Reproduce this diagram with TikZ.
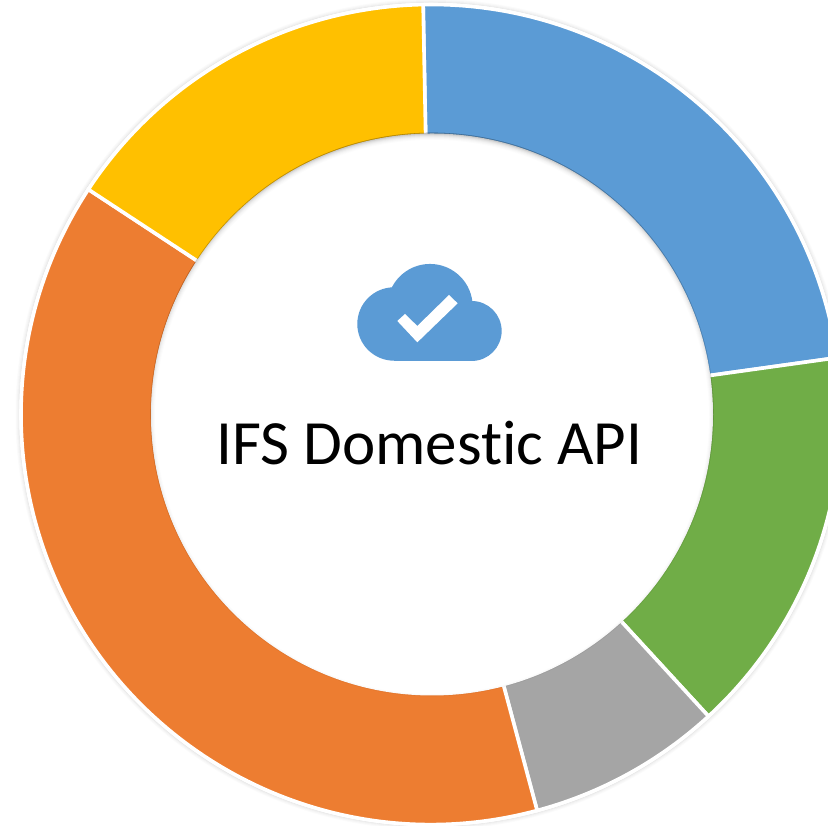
\documentclass[tikz,border=0pt]{standalone}
\usepackage{fontspec}
\setmainfont[Ligatures=NoCommon]{Carlito}
\definecolor{ringblue}{HTML}{5B9BD5}
\definecolor{ringgreen}{HTML}{70AD47}
\definecolor{ringgray}{HTML}{A5A5A5}
\definecolor{ringorange}{HTML}{ED7D31}
\definecolor{ringyellow}{HTML}{FFC000}
\tikzset{
  ringseg/.style={fill=#1, draw=white, line width=3.6pt, line join=miter},
  softedge/.style={draw=black, line width=1pt, opacity=#1},
  cloudfill/.style={fill=ringblue, draw=none},
  ticklook/.style={fill=white, draw=none},
  titletext/.style={font=\fontsize{63}{70}\selectfont, text=black, inner sep=0pt, anchor=base}
}
\newcommand{\ringsector}[3]{%
  \path[ringseg=#3] (#1:278) arc[start angle=#1, end angle=#2, radius=278pt]
    -- (#2:410) arc[start angle=#2, end angle=#1, radius=410pt] -- cycle;}
\begin{document}
\begin{tikzpicture}[x=1pt,y=1pt]
  \useasboundingbox (0,0) rectangle (828,826);
  \clip (0,0) rectangle (828,826);
  \fill[white] (0,0) rectangle (828,826);
  \begin{scope}[shift={(431,411.5)}]
    % faint glow round the ring
    \foreach \r/\o in {412/.08,413/.05,414/.03,415/.015}{
      \draw[softedge=\o] (0,0) circle[radius=\r pt];
    }
    \fill[white] (0,0) circle[radius=411.5pt];
    \ringsector{7.96}{91.1}{ringblue}
    \ringsector{-47.4}{7.96}{ringgreen}
    \ringsector{-75}{-47.4}{ringgray}
    \ringsector{-213.3}{-75}{ringorange}
    \ringsector{146.7}{91.1}{ringyellow}
    % hole with soft inner shadow, thicker at the top
    \fill[white] (1,0) circle[radius=281pt];
    \begin{scope}
      \clip (1,0) circle[radius=281.8pt];
      \foreach \r/\o in {284/.12,283/.08,282/.06,281/.04,280/.03,279/.02,278/.015,277/.01}{
        \fill[black, opacity=\o, even odd rule] (1,0) circle[radius=292pt] (1,-2.5) circle[radius=\r pt];
      }
    \end{scope}
  \end{scope}
  % cloud icon
  \begin{scope}[shift={(340,576)}, x=0.3333pt, y=-0.3333pt]
    \fill[cloudfill] (162,222) circle[radius=36.7pt];
    \fill[cloudfill] (270,170) circle[radius=42.7pt];
    \fill[cloudfill] (395,243) circle[radius=30pt];
    \fill[cloudfill] (162,170) rectangle (395,332);
    \fill[ticklook] (172,213) -- (195,192) -- (232,228) -- (327,135) -- (353,160) -- (232,277) -- cycle;
  \end{scope}
  \node[titletext] (title) at (429.5,361) {IFS Domestic API};
\end{tikzpicture}
\end{document}
